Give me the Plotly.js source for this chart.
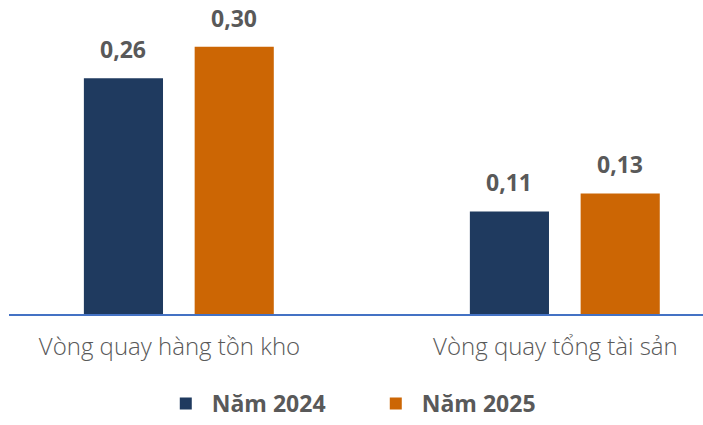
<!DOCTYPE html>
<html>
<head>
<meta charset="utf-8">
<script src="https://cdn.plot.ly/plotly-3.0.1.min.js"></script>
<style>html,body{margin:0;padding:0;background:#fff;}#chart{width:703px;height:425px;}</style>
</head>
<body>
<div id="chart"></div>
<script>
const categories = ["Vòng quay hàng tồn kho", "Vòng quay tổng tài sản"];
const seriesNames = ["Năm 2024", "Năm 2025"];
const values2024 = [0.262, 0.114];
const values2025 = [0.297, 0.134];
const colors = ["#1F3A5F", "#CC6604"];

const fmt = v => v.toFixed(2).replace('.', ',');
const idx = categories.map((c, i) => i);
const barWidth = 0.205;
const offsets = [-0.245, 0.042];
const seriesVals = [values2024, values2025];

const traces = seriesVals.map((vals, s) => ({
  type: 'bar',
  name: seriesNames[s],
  x: idx,
  y: vals,
  width: barWidth,
  offset: offsets[s],
  marker: {color: colors[s]},
  hoverinfo: 'skip'
}));

const annotations = [];
seriesVals.forEach((vals, s) => {
  vals.forEach((v, i) => {
    annotations.push({
      x: i + offsets[s] + barWidth / 2, y: v, xref: 'x', yref: 'y',
      text: '<b>' + fmt(v) + '</b>', showarrow: false,
      yanchor: 'bottom', yshift: 12, borderpad: 0,
      font: {family: '"Open Sans", sans-serif', size: 23, color: '#595959'}
    });
  });
});

const layout = {
  width: 703, height: 425,
  margin: {l: 9, r: 0, t: 20, b: 111},
  paper_bgcolor: '#fff', plot_bgcolor: '#fff',
  barmode: 'overlay',
  showlegend: true,
  legend: {
    orientation: 'h', xref: 'container', yref: 'container',
    x: 0.526, xanchor: 'center', y: -0.01, yanchor: 'bottom',
    font: {family: '"Open Sans", sans-serif', size: 23, color: '#595959', weight: 'bold'},
    itemwidth: 42, traceorder: 'normal', entrywidth: 153
  },
  xaxis: {
    range: [-0.439, 1.359],
    tickmode: 'array', tickvals: idx, ticktext: categories,
    ticklabelshift: -9, ticklabelstandoff: 10,
    showline: true, linecolor: '#4472C4', linewidth: 2,
    showgrid: false, zeroline: false, ticks: '',
    tickfont: {family: '"Open Sans", sans-serif', size: 24, color: '#595959', weight: 300}
  },
  yaxis: {
    range: [0, 0.3267], visible: false, showgrid: false, zeroline: false
  },
  annotations: annotations
};

Plotly.newPlot('chart', traces, layout, {displayModeBar: false, staticPlot: true});
</script>
</body>
</html>
